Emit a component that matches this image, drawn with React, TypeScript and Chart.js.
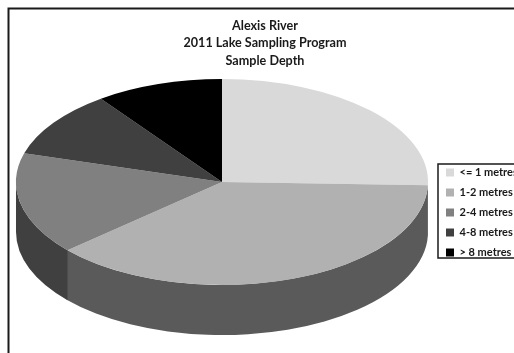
import React, { useEffect, useRef } from "react";
import { Chart, registerables } from "chart.js";

Chart.register(...registerables);

const titleLines = ["Alexis River", "2011 Lake Sampling Program", "Sample Depth"];
const depthClasses = ["<= 1 metres", "1-2 metres", "2-4 metres", "4-8 metres", "> 8 metres"];
const samplePercent = [25.5, 38, 16, 10.5, 10];
const topColors = ["#d9d9d9", "#b1b1b1", "#808080", "#404040", "#000000"];
const sideColors = ["#8c8c8c", "#5a5a5a", "#404040", "#222222", "#000000"];

const TILT = 0.5;
const THICKNESS = 50;
const SEAM_OVERLAP = 0.006;
const FONT = "Lato, Carlito, sans-serif";

// Rim of the tilted pie, painted beneath the chart's own arcs, then the arcs squashed to match.
const tiltedPie = {
  id: "tiltedPie",
  beforeDatasetsDraw(chart: any) {
    const ctx = chart.ctx;
    const arcs = chart.getDatasetMeta(0).data;
    ctx.save();
    arcs.forEach((arc: any, i: number) => {
      const start = Math.max(arc.startAngle, 0);
      const end = Math.min(arc.endAngle + SEAM_OVERLAP, Math.PI);
      if (end <= start) return;
      const rx = arc.outerRadius;
      const ry = rx * TILT;
      ctx.beginPath();
      ctx.ellipse(arc.x, arc.y, rx, ry, 0, start, end);
      ctx.ellipse(arc.x, arc.y + THICKNESS, rx, ry, 0, end, start, true);
      ctx.closePath();
      ctx.fillStyle = sideColors[i];
      ctx.fill();
    });
    ctx.restore();
    const { x, y } = arcs[0];
    ctx.save();
    ctx.translate(x, y);
    ctx.scale(1, TILT);
    ctx.translate(-x, -y);
  },
  afterDatasetsDraw(chart: any) {
    chart.ctx.restore();
  },
};

// Places the legend and title, and draws the outer frame and the legend box.
const frameAndLegend = {
  id: "frameAndLegend",
  afterLayout(chart: any) {
    const legend = chart.legend;
    legend.left = 437;
    legend.right = 530;
    legend.top = 158;
    legend.bottom = 300;
    legend.width = 93;
    legend.height = 142;
    chart.titleBlock.left = 16;
  },
  beforeDraw(chart: any) {
    const ctx = chart.ctx;
    ctx.save();
    ctx.strokeStyle = "#1a1a1a";
    ctx.lineWidth = 2;
    ctx.beginPath();
    ctx.moveTo(8.5, chart.height);
    ctx.lineTo(8.5, 8.5);
    ctx.lineTo(chart.width, 8.5);
    ctx.stroke();
    ctx.restore();
  },
  afterDraw(chart: any) {
    const ctx = chart.ctx;
    ctx.save();
    ctx.strokeStyle = "#1a1a1a";
    ctx.lineWidth = 1.5;
    ctx.strokeRect(438, 164, 92, 94);
    ctx.restore();
  },
};

export default function App() {
  const canvasRef = useRef<HTMLCanvasElement>(null);

  useEffect(() => {
    const chart = new Chart(canvasRef.current as HTMLCanvasElement, {
      type: "pie",
      data: {
        labels: depthClasses,
        datasets: [
          {
            data: samplePercent,
            backgroundColor: topColors,
            borderWidth: 0,
          } as any,
        ],
      },
      options: {
        responsive: false,
        animation: false,
        radius: 206,
        layout: { padding: { left: 0, right: 0, top: 0, bottom: 58.5 } },
        plugins: {
          tooltip: { enabled: false },
          title: {
            display: true,
            text: titleLines,
            color: "#1a1a1a",
            font: { family: FONT, size: 12.6, weight: "bold", lineHeight: 1.39 },
            padding: { top: 17, bottom: 0 },
          },
          legend: {
            position: "right",
            align: "start",
            maxWidth: 70,
            labels: {
              boxWidth: 8,
              boxHeight: 8,
              padding: 9,
              color: "#1a1a1a",
              font: { family: FONT, size: 11, weight: "bold" },
            },
          },
        },
      } as any,
      plugins: [tiltedPie, frameAndLegend],
    });
    return () => chart.destroy();
  }, []);

  return (
    <div style={{ position: "fixed", left: 0, top: 0, width: 514, height: 353, overflow: "hidden", background: "#fff" }}>
      <canvas ref={canvasRef} width={514} height={353} style={{ display: "block" }} />
    </div>
  );
}
